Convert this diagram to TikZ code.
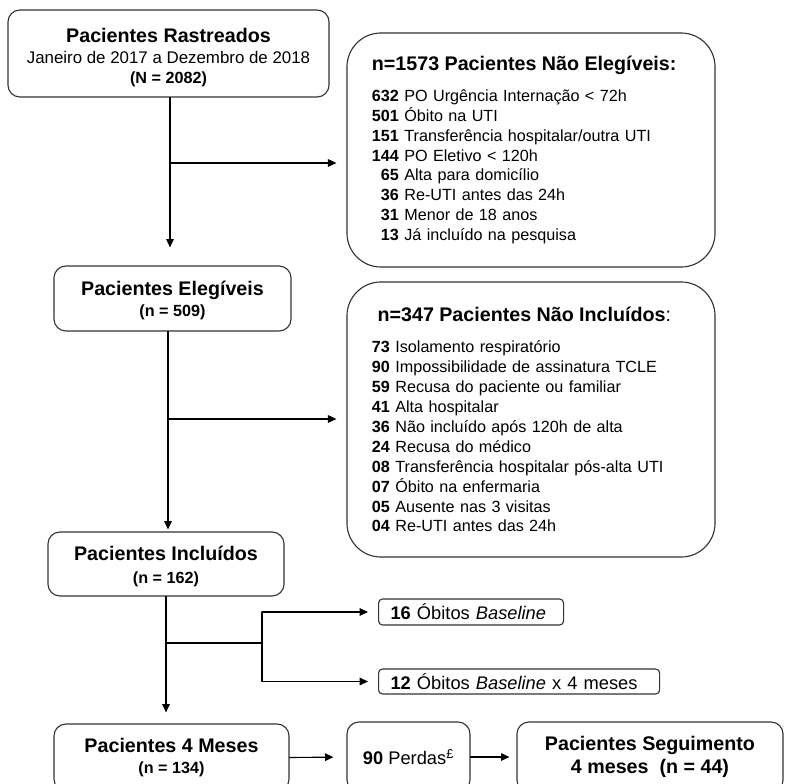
\documentclass[tikz,border=0pt]{standalone}
\usepackage{fontspec}
\setmainfont{Liberation Sans}
\usetikzlibrary{arrows.meta}
\newcommand{\nitem}[2]{\makebox[19.2pt][r]{\textbf{#1}} #2}
\begin{document}
\begin{tikzpicture}[x=0.025cm, y=-0.025cm, line join=round, line cap=round, >={Triangle[length=0.21cm,width=0.19cm]},
	box/.style={draw=black!80, line width=0.8pt, rounded corners=0.3cm, align=center, inner sep=0pt, font=\fontsize{11.5}{14.5}\selectfont},
	bigbox/.style={draw=black!80, line width=0.8pt, rounded corners=0.85cm, align=left, inner xsep=0pt, text width=7.95cm, font=\fontsize{11.5}{14.2}\selectfont},
	tagbox/.style={draw=black!80, line width=0.8pt, rounded corners=0.1cm, anchor=west, align=left, inner xsep=0.3cm, inner ysep=0pt, font=\fontsize{13}{15}\selectfont},
	arr/.style={->, line width=0.8pt, shorten >=0.25cm}]
	\clip (0,0) rectangle (784,784);
	\def \hd{\fontsize{14}{17}\selectfont\bfseries} %titulo
	\node[box, minimum width=8.025cm, minimum height=2.175cm] (b1) at (168.5,53.5)
		{\rule{0pt}{16pt}{\hd Pacientes Rastreados}\\{\fontsize{12}{14}\selectfont Janeiro de 2017 a Dezembro de 2018}\\\textbf{(N = 2082)}};
	\node[bigbox, minimum width=9.2cm, minimum height=5.85cm] (b2) at (531,150)
		{{\hd n=1573 Pacientes Não Elegíveis:}\\[7.8pt]
		\nitem{632}{PO Urgência Internação < 72h}\\
		\nitem{501}{Óbito na UTI}\\
		\nitem{151}{Transferência hospitalar/outra UTI}\\
		\nitem{144}{PO Eletivo < 120h}\\
		\nitem{65}{Alta para domicílio}\\
		\nitem{36}{Re-UTI antes das 24h}\\
		\nitem{31}{Menor de 18 anos}\\
		\nitem{13}{Já incluído na pesquisa}};
	\node[box, minimum width=5.925cm, minimum height=1.625cm] (b3) at (172.5,298.5)
		{\rule{0pt}{13pt}{\hd Pacientes Elegíveis}\\\textbf{(n = 509)}};
	\node[bigbox, minimum width=9.2cm, minimum height=6.875cm] (b4) at (531,419.5)
		{\hspace*{4pt}{\hd n=347 Pacientes Não Incluídos}{\fontsize{14}{17}\selectfont:}\\[7.8pt]
		\textbf{73} Isolamento respiratório\\
		\textbf{90} Impossibilidade de assinatura TCLE\\
		\textbf{59} Recusa do paciente ou familiar\\
		\textbf{41} Alta hospitalar\\
		\textbf{36} Não incluído após 120h de alta\\
		\textbf{24} Recusa do médico\\
		\textbf{08} Transferência hospitalar pós-alta UTI\\
		\textbf{07} Óbito na enfermaria\\
		\textbf{05} Ausente nas 3 visitas\\
		\textbf{04} Re-UTI antes das 24h};
	\node[box, minimum width=5.9cm, minimum height=1.6cm] (b5) at (166,564)
		{\rule{0pt}{14pt}{\hd Pacientes Incluídos}\\[1.5pt]\textbf{(n = 162)}};
	\node[tagbox, text width=4.025cm, minimum height=0.65cm] (o1) at (378,612)
		{\textbf{16} Óbitos \textit{Baseline}};
	\node[tagbox, text width=6.425cm, minimum height=0.625cm] (o2) at (378,681.5)
		{\textbf{12} Óbitos \textit{Baseline} x 4 meses};
	\node[box, minimum width=5.875cm, minimum height=1.675cm] (b6) at (171.5,757.5)
		{{\hd Pacientes 4 Meses}\\[1pt]\textbf{(n = 134)}};
	\node[box, minimum width=3.075cm, minimum height=1.75cm, font=\fontsize{13}{15}\selectfont] (pd) at (408.5,757)
		{\textbf{90} Perdas\textsuperscript{£}};
	\node[box, minimum width=6.65cm, minimum height=1.75cm] (b7) at (650,757)
		{{\hd Pacientes Seguimento}\\[2pt]{\hd 4 meses \ (n = 44)}};
	% ligacoes
	\coordinate (j1) at (170,163);
	\coordinate (j2) at (168,419);
	\coordinate (j3) at (166,643);
	\coordinate (j4) at (262,643);
	\draw[arr, shorten >=0.45cm] (b1.south -| j1)--(b3.north -| j1);
	\draw[arr] (j1)--(b2.west |- j1);
	\draw[arr, shorten >=0.05cm] (b3.south -| j2)--(b5.north -| j2);
	\draw[arr] (j2)--(b4.west |- j2);
	\draw[arr, shorten >=0.275cm] (b5.south -| j3)--(b6.north -| j3);
	\draw[line width=0.8pt] (j3)--(j4);
	\draw[line width=0.8pt] (j4 |- o1)--(j4 |- o2);
	\draw[arr] (j4 |- o1)--(o1.west);
	\draw[arr] (j4 |- o2)--(o2.west);
	\draw[arr, shorten >=0.325cm] (b6.east)--(pd.west);
	\draw[arr, shorten >=0.175cm] (pd.east)--(b7.west);
\end{tikzpicture}
\end{document}
